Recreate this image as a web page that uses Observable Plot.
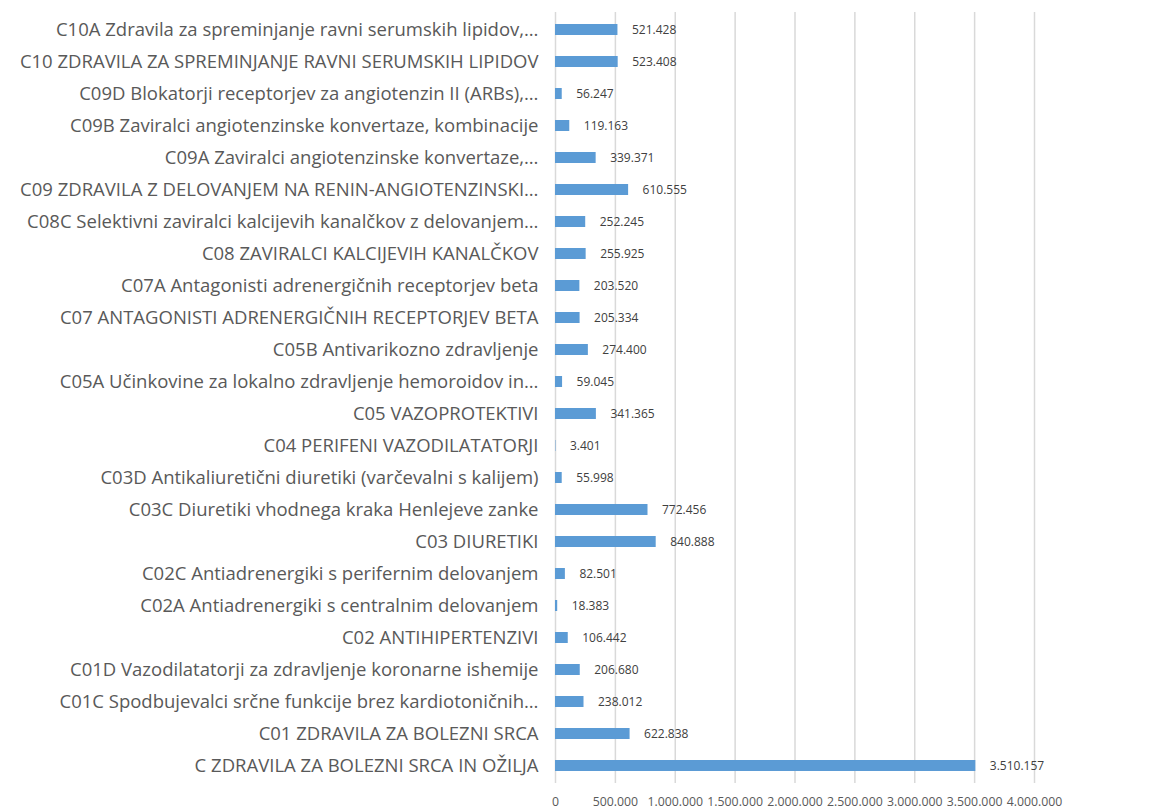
<!DOCTYPE html>
<html><head><meta charset="utf-8">
<script src="https://cdn.jsdelivr.net/npm/d3@7"></script>
<script src="https://cdn.jsdelivr.net/npm/@observablehq/plot@0.6"></script>
<style>body{margin:0;background:#fff;} svg{display:block;}</style>
</head><body><div id="chart"></div>
<script>
const categories = [
  "C10A Zdravila za spreminjanje ravni serumskih lipidov,…",
  "C10 ZDRAVILA ZA SPREMINJANJE RAVNI SERUMSKIH LIPIDOV",
  "C09D Blokatorji receptorjev za angiotenzin II (ARBs),…",
  "C09B Zaviralci angiotenzinske konvertaze, kombinacije",
  "C09A Zaviralci angiotenzinske konvertaze,…",
  "C09 ZDRAVILA Z DELOVANJEM NA RENIN-ANGIOTENZINSKI…",
  "C08C Selektivni zaviralci kalcijevih kanalčkov z delovanjem…",
  "C08 ZAVIRALCI KALCIJEVIH KANALČKOV",
  "C07A Antagonisti adrenergičnih receptorjev beta",
  "C07 ANTAGONISTI ADRENERGIČNIH RECEPTORJEV BETA",
  "C05B Antivarikozno zdravljenje",
  "C05A Učinkovine za lokalno zdravljenje hemoroidov in…",
  "C05 VAZOPROTEKTIVI",
  "C04 PERIFENI VAZODILATATORJI",
  "C03D Antikaliuretični diuretiki (varčevalni s kalijem)",
  "C03C Diuretiki vhodnega kraka Henlejeve zanke",
  "C03 DIURETIKI",
  "C02C Antiadrenergiki s perifernim delovanjem",
  "C02A Antiadrenergiki s centralnim delovanjem",
  "C02 ANTIHIPERTENZIVI",
  "C01D Vazodilatatorji za zdravljenje koronarne ishemije",
  "C01C Spodbujevalci srčne funkcije brez kardiotoničnih…",
  "C01 ZDRAVILA ZA BOLEZNI SRCA",
  "C ZDRAVILA ZA BOLEZNI SRCA IN OŽILJA"
];
const values = [521428, 523408, 56247, 119163, 339371, 610555, 252245, 255925, 203520, 205334,
  274400, 59045, 341365, 3401, 55998, 772456, 840888, 82501, 18383, 106442, 206680, 238012, 622838, 3510157];
const xTicks = [0, 500000, 1000000, 1500000, 2000000, 2500000, 3000000, 3500000, 4000000];

const data = categories.map((c, i) => ({category: c, value: values[i]}));
const loc = d3.formatLocale({decimal: ",", thousands: ".", grouping: [3], currency: ["", " €"]});
const fmt = loc.format(",d");

const chart = Plot.plot({
  width: 1154,
  height: 810,
  marginLeft: 555,
  marginRight: 120,
  marginTop: 12,
  marginBottom: 27,
  style: {fontFamily: "'Open Sans', sans-serif", color: "#595959", background: "#fff"},
  x: {domain: [0, 4000000], ticks: xTicks, tickFormat: fmt},
  y: {domain: categories, paddingInner: 0.65, paddingOuter: 0.325},
  marks: [
    Plot.gridX(xTicks, {stroke: "#d9d9d9", strokeOpacity: 1, strokeWidth: 1.5}),
    Plot.barX(data, {x: "value", y: "category", fill: "#5b9bd5"}),
    Plot.text(data, {x: "value", y: "category", text: d => fmt(d.value), textAnchor: "start", dx: 14, fontSize: 12, fill: "#404040"}),
    Plot.axisY({tickSize: 0, tickPadding: 17, fontSize: 18.5, label: null, fill: "#595959"}),
    Plot.axisX(xTicks, {tickSize: 0, tickPadding: 14, fontSize: 12.3, label: null, tickFormat: fmt, fill: "#595959"})
  ]
});
document.getElementById("chart").appendChild(chart);
</script>
</body></html>
